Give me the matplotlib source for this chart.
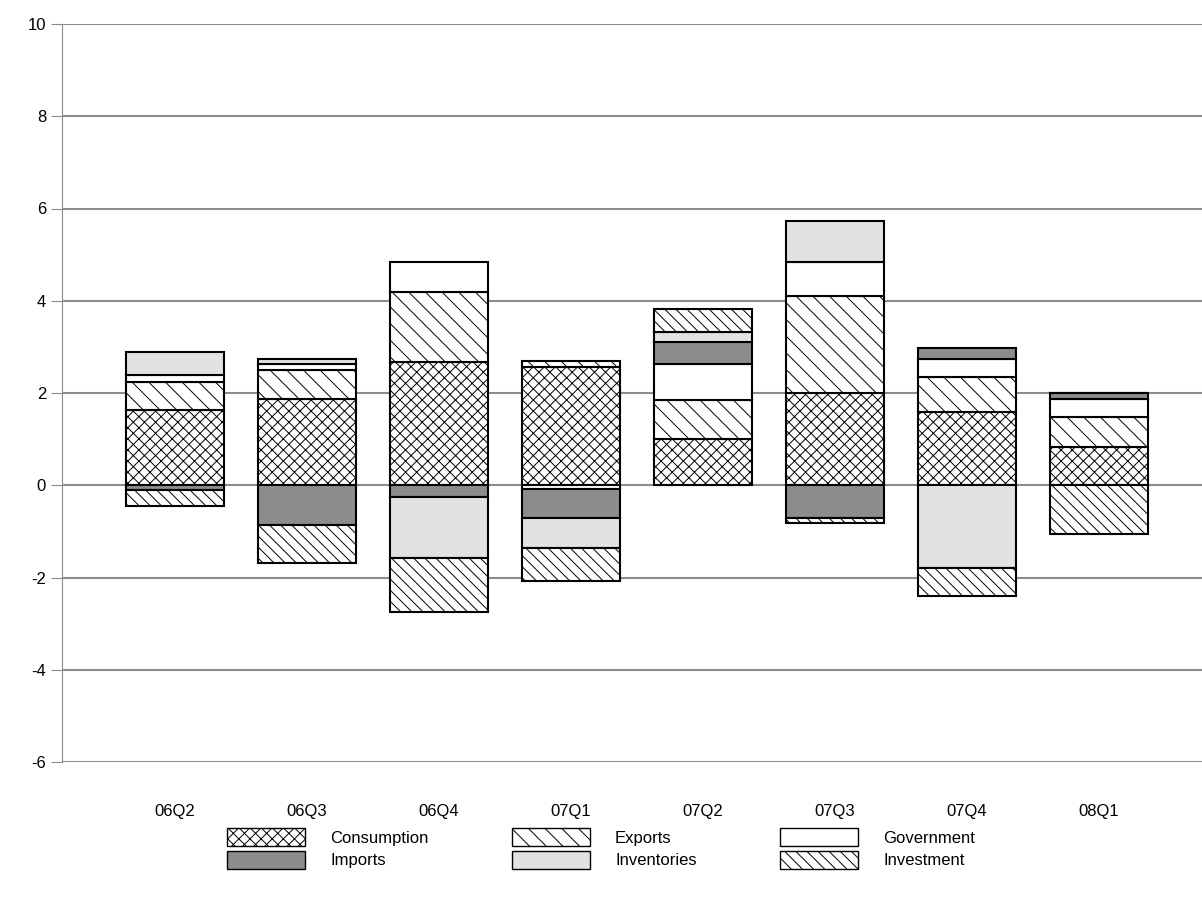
import matplotlib
matplotlib.use("Agg")
import matplotlib.pyplot as plt
import numpy as np
from matplotlib.patches import Patch

plt.rcParams['font.family'] = ['Liberation Sans', 'DejaVu Sans']
plt.rcParams['hatch.linewidth'] = 0.7
plt.rcParams['axes.unicode_minus'] = False

quarters = ["06Q2", "06Q3", "06Q4", "07Q1", "07Q2", "07Q3", "07Q4", "08Q1"]
consumption = [1.63, 1.87, 2.67, 2.57, 1.00, 2.00, 1.58, 0.82]
exports     = [0.60, 0.63, 1.52, 0.12, 0.85, 2.10, 0.77, 0.65]
government  = [0.17, 0.12, 0.65, -0.08, 0.77, 0.73, 0.38, 0.39]
imports     = [-0.11, -0.87, -0.25, -0.62, 0.48, -0.70, 0.24, 0.15]
inventories = [0.48, 0.12, -1.32, -0.66, 0.22, 0.90, -1.79, 0.00]
investment  = [-0.33, -0.82, -1.18, -0.72, 0.50, -0.12, -0.62, -1.05]

series = [
    ("Consumption", consumption, "white", "xxx"),
    ("Exports", exports, "white", "\\\\"),
    ("Government", government, "white", None),
    ("Imports", imports, "#8c8c8c", None),
    ("Inventories", inventories, "#e2e2e2", None),
    ("Investment", investment, "white", "\\\\\\"),
]

fig = plt.figure(figsize=(12.02, 9.11), dpi=100)
ax = fig.add_axes([62/1202, 1-762/911, 1140/1202, 738/911])
x = np.arange(len(quarters))
pos = np.zeros(len(quarters))
neg = np.zeros(len(quarters))
w = 0.74
for name, vals, color, hatch in series:
    v = np.array(vals)
    bottoms = np.where(v >= 0, pos, neg)
    ax.bar(x, v, w, bottom=bottoms, color=color, edgecolor="black",
           linewidth=1.5, hatch=hatch, zorder=3)
    pos = pos + np.where(v >= 0, v, 0)
    neg = neg + np.where(v < 0, v, 0)

ax.set_xlim(-0.856, 7.78)
ax.set_ylim(-6, 10)
ax.set_yticks(range(-6, 11, 2))
ax.set_xticks(x)
ax.set_xticklabels(quarters)
ax.yaxis.grid(True, color="#8c8c8c", linewidth=1.5, zorder=0)
for s in ["top", "right", "bottom"]:
    ax.spines[s].set_visible(False)
ax.spines["left"].set_color("#8c8c8c")
ax.tick_params(axis="y", colors="#8c8c8c", labelcolor="black", length=8, labelsize=12)
ax.tick_params(axis="x", length=0, labelsize=12, pad=30)

handles = [Patch(facecolor=c, edgecolor="black", hatch=h, label=n) for n, _, c, h in series]
order = [0, 3, 1, 4, 2, 5]
fig.legend([handles[i] for i in order], [series[i][0] for i in order],
           loc="lower center", bbox_to_anchor=(0.5, 0.03), ncol=3, frameon=False,
           fontsize=12, handlelength=4.7, handleheight=1.3, columnspacing=5,
           handletextpad=1.5, labelspacing=0.25)
fig.savefig("out.png", dpi=100)
